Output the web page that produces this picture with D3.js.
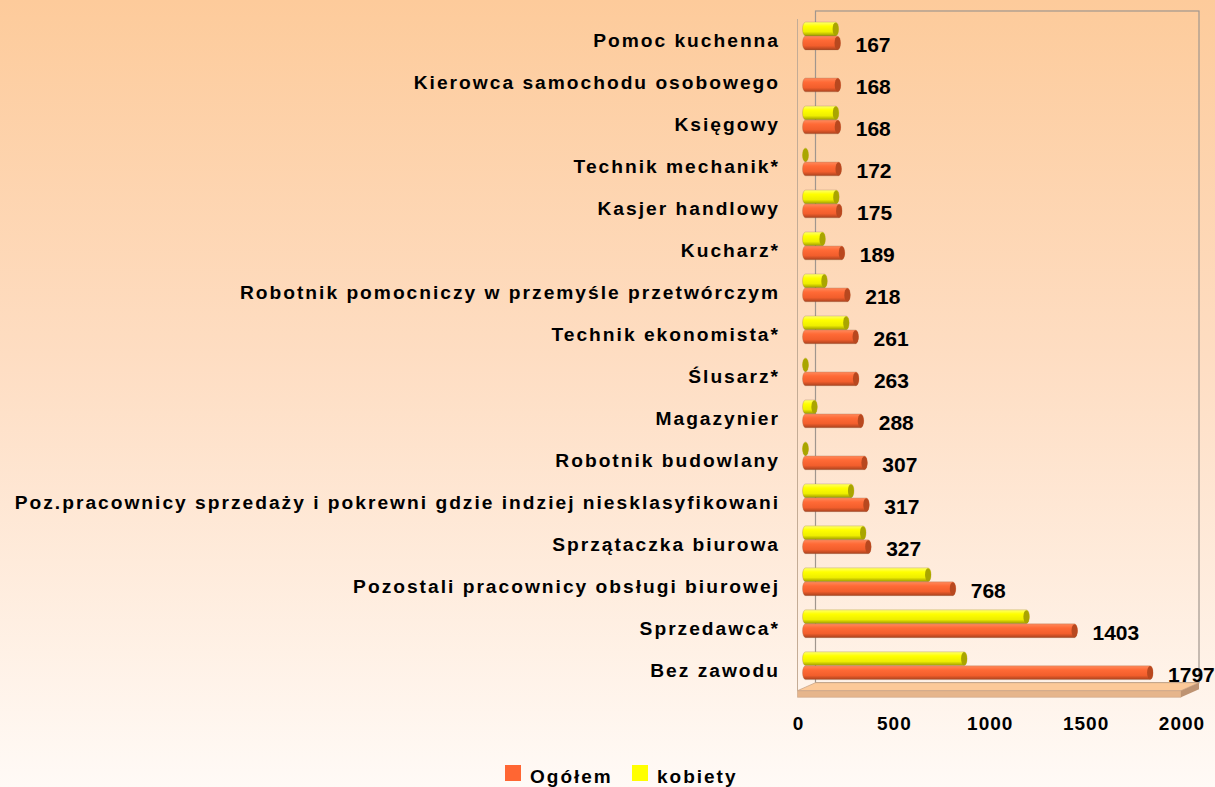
<!DOCTYPE html>
<html>
<head>
<meta charset="utf-8">
<script src="https://cdn.jsdelivr.net/npm/d3@7"></script>
<style>
  html, body { margin: 0; padding: 0; }
  body { width: 1215px; height: 787px; overflow: hidden; }
  svg { display: block; font-family: Arial, "Liberation Sans", sans-serif; }
</style>
</head>
<body>
<div id="chart"></div>
<script>
// categories, top to bottom
const categories = [
  'Pomoc kuchenna',
  'Kierowca samochodu osobowego',
  'Księgowy',
  'Technik mechanik*',
  'Kasjer handlowy',
  'Kucharz*',
  'Robotnik pomocniczy w przemyśle przetwórczym',
  'Technik ekonomista*',
  'Ślusarz*',
  'Magazynier',
  'Robotnik budowlany',
  'Poz.pracownicy sprzedaży i pokrewni gdzie indziej niesklasyfikowani',
  'Sprzątaczka biurowa',
  'Pozostali pracownicy obsługi biurowej',
  'Sprzedawca*',
  'Bez zawodu'
];
const ogolem = [167, 168, 168, 172, 175, 189, 218, 261, 263, 288, 307, 317, 327, 768, 1403, 1797];
// no value for Kierowca (null)
const kobiety = [157, null, 158, 0, 160, 88, 98, 212, 0, 46, 0, 237, 300, 639, 1152, 827];
const xTicks = [0, 500, 1000, 1500, 2000];
const seriesNames = ['Ogółem', 'kobiety'];

const width = 1215, height = 787;

// 3d box: front plane and depth offset
const front = { left: 797.5, top: 19, bottom: 690.7, width: 383.5 };
const depth = { dx: 18, dy: 8 };

const svg = d3.select('#chart').append('svg')
  .attr('width', width)
  .attr('height', height);

const defs = svg.append('defs');

// page background
const bg = defs.append('linearGradient').attr('id', 'bg')
  .attr('x1', 0).attr('y1', 0).attr('x2', 0).attr('y2', 1);
bg.append('stop').attr('offset', '0%').attr('stop-color', '#FDCB9B');
bg.append('stop').attr('offset', '45%').attr('stop-color', '#FEDDC2');
bg.append('stop').attr('offset', '100%').attr('stop-color', '#FFFAF6');
svg.append('rect').attr('width', width).attr('height', height).attr('fill', 'url(#bg)');

// cylinder shading
function cylGrad(id, stops) {
  const g = defs.append('linearGradient').attr('id', id)
    .attr('x1', 0).attr('y1', 0).attr('x2', 0).attr('y2', 1);
  stops.forEach(s => g.append('stop').attr('offset', s[0]).attr('stop-color', s[1]));
}
cylGrad('gOrange', [['0%', '#FF8A5C'], ['30%', '#FF6A36'], ['70%', '#F25E2C'], ['100%', '#A9421E']]);
cylGrad('gYellow', [['0%', '#FFFF70'], ['30%', '#FFFF00'], ['70%', '#EEEE00'], ['100%', '#9C9A00']]);

const colors = { orange: '#FF6633', yellow: '#FFFF00' };

// scales
const xScale = d3.scaleLinear().domain([0, 2000]).range([front.left, front.left + front.width]);
const yScale = d3.scaleBand().domain(categories).range([front.top, front.bottom]);

// walls
const backLeft = front.left + depth.dx;
const backTop = front.top - depth.dy;
const backBottom = front.bottom - depth.dy;
const backRight = front.left + front.width + depth.dx;

svg.append('rect')
  .attr('x', backLeft).attr('y', backTop)
  .attr('width', backRight - backLeft).attr('height', backBottom - backTop)
  .attr('fill', 'none')
  .attr('stroke', '#A0968E').attr('stroke-width', 1.2);

svg.append('line')
  .attr('x1', front.left).attr('x2', front.left)
  .attr('y1', front.top).attr('y2', front.bottom)
  .attr('stroke', '#C4AC96').attr('stroke-width', 1);

// floor slab
const fr = front.left + front.width;
svg.append('polygon')
  .attr('points', [[front.left, front.bottom], [backLeft, backBottom], [backRight, backBottom], [fr, front.bottom]].join(' '))
  .attr('fill', '#FCC998').attr('stroke', '#C9A586').attr('stroke-width', 0.8);
svg.append('polygon')
  .attr('points', [[front.left, front.bottom], [fr, front.bottom], [fr, front.bottom + 6.6], [front.left, front.bottom + 6.6]].join(' '))
  .attr('fill', '#E6B58B').attr('stroke', '#C9A586').attr('stroke-width', 0.6);
svg.append('polygon')
  .attr('points', [[fr, front.bottom], [backRight, backBottom], [backRight, backBottom + 6.6], [fr, front.bottom + 6.6]].join(' '))
  .attr('fill', '#BE9372');

// bars sit at mid depth
const barDx = 8, barH = 13.8, capRx = 3;
const xBar = v => xScale(v) + barDx;
const bandMid = c => yScale(c) + yScale.bandwidth() / 2;

const rows = categories.map((c, i) => ({ cat: c, total: ogolem[i], women: kobiety[i] }));

function cylinder(g, cy, v, fill, cap) {
  const x0 = xBar(0), x1 = xBar(v);
  g.append('rect')
    .attr('x', x0 - capRx).attr('y', cy - barH / 2)
    .attr('width', x1 - x0 + 2 * capRx).attr('height', barH)
    .attr('rx', capRx).attr('ry', barH / 2)
    .attr('fill', fill)
    .attr('stroke', 'rgba(150,110,80,0.35)').attr('stroke-width', 0.8);
  g.append('ellipse')
    .attr('cx', x1).attr('cy', cy)
    .attr('rx', capRx).attr('ry', barH / 2 - 0.3)
    .attr('fill', cap);
}

const bars = svg.append('g').attr('class', 'bars');
rows.forEach(d => {
  const mid = bandMid(d.cat);
  if (d.women !== null) cylinder(bars, mid - 11, d.women, 'url(#gYellow)', '#A9A500');
  cylinder(bars, mid + 3, d.total, 'url(#gOrange)', '#B8481F');
});

// value labels for Ogółem
svg.append('g').selectAll('text')
  .data(rows)
  .enter().append('text')
    .attr('x', d => xBar(d.total) + capRx + 15)
    .attr('y', d => bandMid(d.cat) + 3 + 9.5)
    .text(d => d.total)
    .style('font-size', '21px')
    .style('font-weight', 'bold')
    .style('fill', '#000');

// category labels
const yAxis = d3.axisLeft(yScale).tickSize(0).tickPadding(0);
const yG = svg.append('g')
  .attr('transform', 'translate(780,0)')
  .call(yAxis);
yG.attr('font-family', null).attr('font-size', null);
yG.select('.domain').remove();
yG.selectAll('text')
  .attr('dy', '0.36em')
  .style('font-size', '19.2px')
  .style('font-weight', 'bold')
  .style('letter-spacing', '2px')
  .style('fill', '#000');

// x axis labels
const xAxis = d3.axisBottom(xScale).tickValues(xTicks).tickFormat(d3.format('d')).tickSize(0).tickPadding(0);
const xG = svg.append('g')
  .attr('transform', 'translate(0,716)')
  .call(xAxis);
xG.attr('font-family', null).attr('font-size', null);
xG.select('.domain').remove();
xG.selectAll('text')
  .attr('dy', '0.76em')
  .attr('dx', '0.5px')
  .style('font-size', '19px')
  .style('font-weight', 'bold')
  .style('letter-spacing', '1px')
  .style('fill', '#000');

// legend
const legend = svg.append('g').attr('class', 'legend');
const legendItems = [
  { name: seriesNames[0], color: colors.orange, x: 505 },
  { name: seriesNames[1], color: colors.yellow, x: 632 }
];
legendItems.forEach(l => {
  legend.append('rect')
    .attr('x', l.x).attr('y', 765)
    .attr('width', 16).attr('height', 16)
    .attr('fill', l.color);
  legend.append('text')
    .attr('x', l.x + 25).attr('y', 783)
    .text(l.name)
    .style('font-size', '19px')
    .style('font-weight', 'bold')
    .style('letter-spacing', '2px')
    .style('fill', '#000');
});
</script>
</body>
</html>
